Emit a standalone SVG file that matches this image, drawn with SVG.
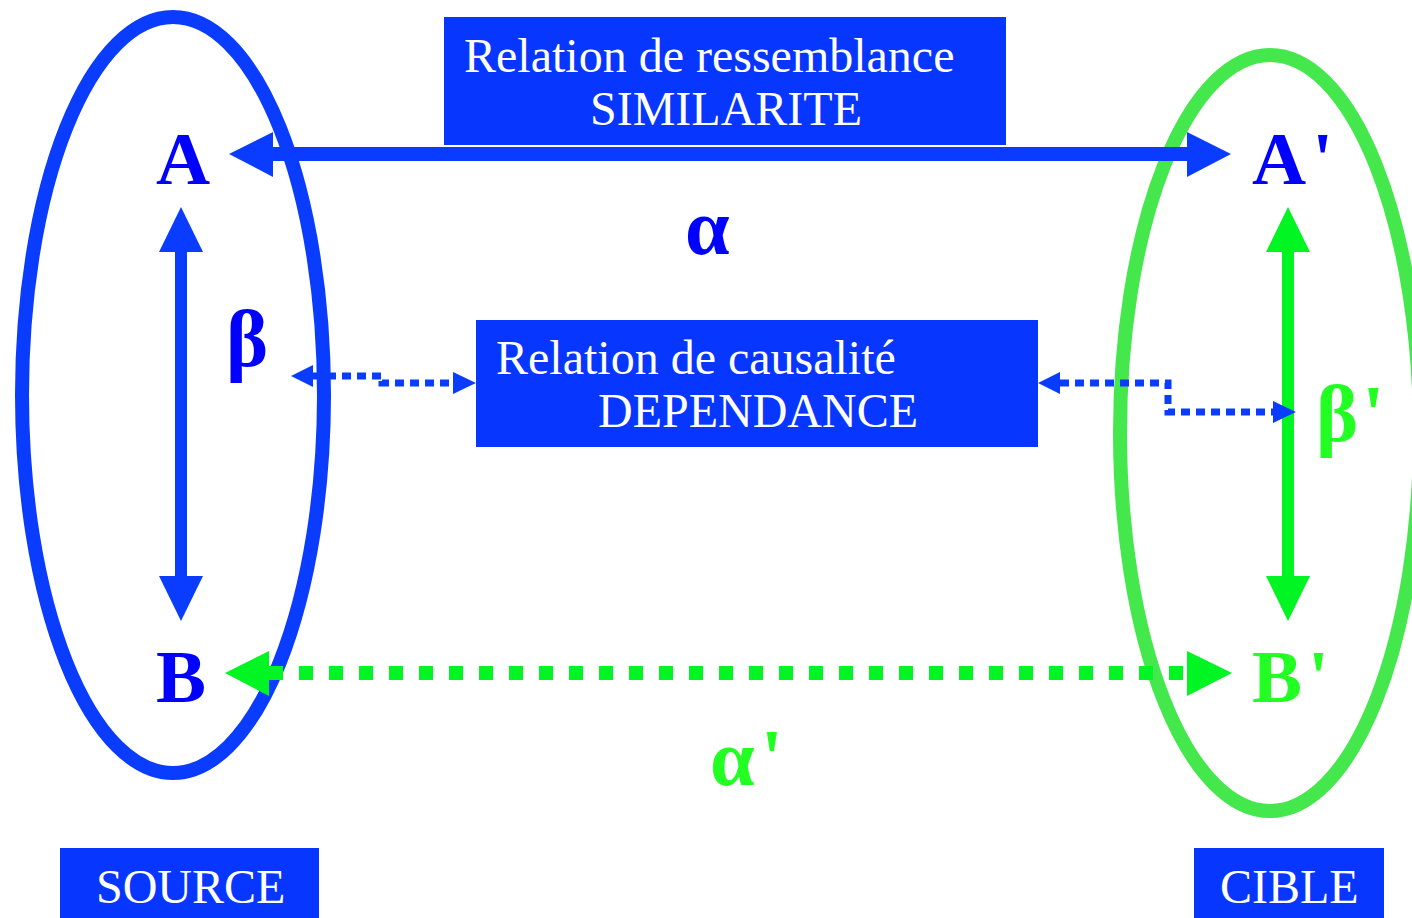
<svg xmlns="http://www.w3.org/2000/svg" width="1412" height="918" viewBox="0 0 1412 918">
  <style>
    .box { fill: #0636ff; }
    .boxtxt { font-family: "Liberation Serif", "Times New Roman", serif; font-size: 48px; fill: #ffffff; }
    .lbl { font-family: "Liberation Serif", "Times New Roman", serif; font-weight: bold; font-size: 75px; }
    .greek { font-family: "Liberation Serif", "Times New Roman", serif; font-weight: bold; font-size: 80px; }
    .blue { fill: #0000ff; }
    .green { fill: #22ff22; }
    .ahB { fill: #0a3cff; }
    .ahG { fill: #00f522; }
  </style>

  <!-- domain ellipses -->
  <g id="source-set">
    <ellipse cx="173" cy="395" rx="151" ry="378" fill="none" stroke="#0a3cff" stroke-width="14"/>
  </g>
  <g id="target-set">
    <ellipse cx="1270" cy="433" rx="150" ry="378" fill="none" stroke="#44e84c" stroke-width="14"/>
  </g>

  <!-- connectors -->
  <g id="connectors">
    <!-- A <-> A' -->
    <line x1="268" y1="154" x2="1192" y2="154" stroke="#0a3cff" stroke-width="14"/>
    <polygon class="ahB" points="229,154 273,132 273,177"/>
    <polygon class="ahB" points="1231,154 1187,132 1187,177"/>
    <!-- A <-> B -->
    <line x1="181" y1="245" x2="181" y2="585" stroke="#0a3cff" stroke-width="12"/>
    <polygon class="ahB" points="181,207 159,252 203,252"/>
    <polygon class="ahB" points="181,621 159,576 203,576"/>
    <!-- A' <-> B' -->
    <line x1="1288" y1="245" x2="1288" y2="585" stroke="#00f522" stroke-width="12"/>
    <polygon class="ahG" points="1288,207 1266,252 1310,252"/>
    <polygon class="ahG" points="1288,621 1266,576 1310,576"/>
    <!-- B <-> B' -->
    <line x1="269" y1="673" x2="1190" y2="673" stroke="#00f522" stroke-width="14" stroke-dasharray="14 16"/>
    <polygon class="ahG" points="225,673 269,651 269,696"/>
    <polygon class="ahG" points="1232,673 1187,651 1187,696"/>
    <!-- beta <-> causality box -->
    <polyline points="312,376 382,376 382,383 455,383" fill="none" stroke="#0a3cff" stroke-width="7" stroke-dasharray="9 6"/>
    <polygon class="ahB" points="291,376 313,365 313,387"/>
    <polygon class="ahB" points="476,383 453,372 453,394"/>
    <!-- causality box <-> beta' -->
    <polyline points="1060,383 1168,383 1168,412 1274,412" fill="none" stroke="#0a3cff" stroke-width="7" stroke-dasharray="9 6"/>
    <polygon class="ahB" points="1038,383 1060,372 1060,394"/>
    <polygon class="ahB" points="1296,412 1273,401 1273,423"/>
  </g>

  <!-- relation boxes -->
  <g id="similarity">
    <rect class="box" x="444" y="17" width="562" height="128"/>
    <text class="boxtxt" x="464" y="72">Relation de ressemblance</text>
    <text class="boxtxt" x="590" y="125">SIMILARITE</text>
  </g>
  <g id="dependency">
    <rect class="box" x="476" y="320" width="562" height="127"/>
    <text class="boxtxt" x="496" y="374">Relation de causalité</text>
    <text class="boxtxt" x="598" y="427">DEPENDANCE</text>
  </g>

  <!-- element labels -->
  <g id="node-A"><text class="lbl blue" x="156" y="184">A</text></g>
  <g id="node-A-prime"><text class="lbl blue" x="1252" y="184">A<tspan dx="6">'</tspan></text></g>
  <g id="node-B"><text class="lbl blue" x="156" y="702">B</text></g>
  <g id="node-B-prime"><text class="lbl green" x="1252" y="702">B<tspan dx="6">'</tspan></text></g>

  <g id="alpha"><text class="greek blue" x="685" y="254">α</text></g>
  <g id="alpha-prime"><text class="greek green" x="710" y="785">α<tspan dx="6">'</tspan></text></g>
  <g id="beta"><text class="greek blue" x="226" y="366">β</text></g>
  <g id="beta-prime"><text class="greek green" x="1316" y="441">β<tspan dx="4">'</tspan></text></g>

  <!-- set captions -->
  <g id="source-label">
    <rect class="box" x="60" y="848" width="259" height="70"/>
    <text class="boxtxt" x="96" y="903">SOURCE</text>
  </g>
  <g id="target-label">
    <rect class="box" x="1194" y="848" width="190" height="70"/>
    <text class="boxtxt" x="1220" y="903">CIBLE</text>
  </g>
</svg>
